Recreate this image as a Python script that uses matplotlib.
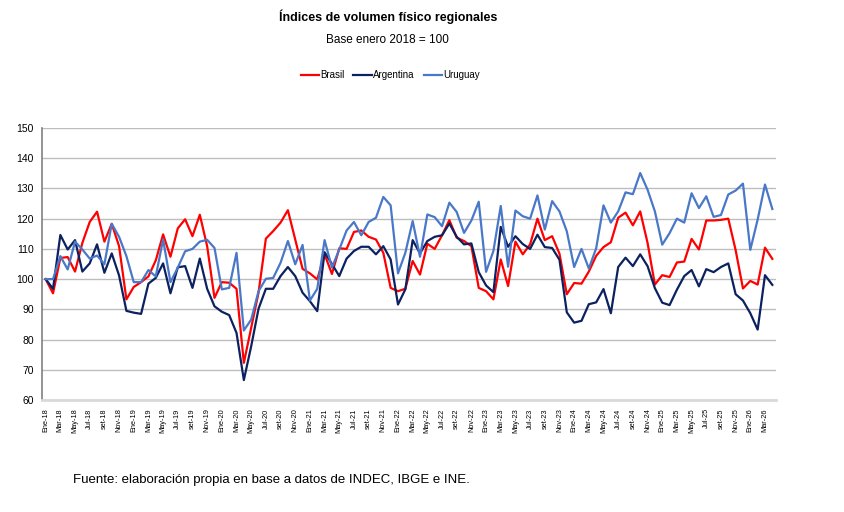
import numpy as np
import matplotlib
matplotlib.use("Agg")
from matplotlib import pyplot as plt

## Data ----------------------------------------------------------------------
# monthly index, Ene-18 .. Abr-26 (base enero 2018 = 100)
meses = ["Ene", "Feb", "Mar", "Abr", "May", "Jun", "Jul", "Ago", "set", "Oct", "Nov", "Dic"]
anios = ["18", "19", "20", "21", "22", "23", "24", "25", "26"]

brasil = [100, 95.3, 107, 107.3, 102.5, 112, 118.9, 122.3, 112.4, 118.3,
          110.9, 93.3, 97.4, 99, 100.9, 106.2, 114.8, 107.4, 116.8, 119.8,
          114.2, 121.3, 110.9, 93.8, 99, 98.8, 96.8, 72.3, 83.9, 95.5,
          113.4, 115.9, 118.7, 122.8, 113.1, 103.4, 101.9, 99.9, 108.2, 101.7,
          110.2, 110, 115.6, 116.1, 114, 113.1, 108.7, 97.1, 96, 96.8,
          106, 101.5, 111.7, 110, 114.5, 119.5, 113.7, 112.6, 110.9, 97.1,
          96, 93.3, 106.5, 97.7, 112.4, 108.2, 111.5, 120, 112.9, 114.2,
          108.4, 95, 98.7, 98.5, 102.5, 107.7, 110.6, 112.2, 120.3, 122,
          117.8, 122.4, 112, 98.2, 101.3, 100.7, 105.5, 105.8, 113.3, 109.8,
          119.4, 119.4, 119.6, 120, 109.6, 96.9, 99.4, 98.2, 110.4, 106.7]

argentina = [100, 96.8, 114.6, 109.8, 112.9, 102.5, 105.2, 111.5, 102.1, 108.5,
             101.2, 89.5, 88.9, 88.5, 98.5, 100.4, 105.2, 95.3, 103.9, 104.3,
             97.1, 106.8, 96.8, 91, 89.2, 88.1, 82.2, 66.6, 77.8, 90.2,
             96.8, 96.8, 101, 104, 101, 95.5, 92.7, 89.4, 108.9, 105,
             101, 106.8, 109.3, 110.7, 110.7, 108.2, 110.9, 106.5, 91.6, 96.6,
             112.9, 108.5, 112.6, 114, 114.5, 118.4, 114, 111.5, 111.8, 102.3,
             97.9, 95.7, 117.3, 110.7, 114.2, 111.6, 110, 114.7, 110.6, 110.3,
             106.4, 89, 85.6, 86.2, 91.7, 92.3, 96.7, 88.7, 104, 107.1,
             104.3, 108.2, 104.3, 97, 92.2, 91.4, 96.5, 101, 103, 97.6,
             103.3, 102.3, 104, 105.2, 95, 92.9, 88.7, 83.3, 101.3, 98.1]

uruguay = [100, 100, 107.6, 103.2, 112.4, 109.8, 106.8, 107.8, 104.9, 118.3,
           114, 107.6, 99, 99, 103, 100.9, 113.1, 99, 103.8, 109.2,
           110, 112.4, 113, 110.3, 96.6, 97.1, 108.7, 83, 86.6, 96,
           100.1, 100.4, 105.4, 112.6, 104.9, 111.3, 92.9, 96.8, 112.9, 103.8,
           109.8, 116.1, 118.9, 114.5, 118.9, 120.3, 127.2, 124.4, 101.9, 108.7,
           119.2, 107.4, 121.4, 120.5, 117.5, 125.3, 122.2, 115.3, 119.4, 125.6,
           102.4, 109.3, 124.2, 104.1, 122.7, 120.8, 120, 127.7, 116.4, 125.8,
           122.4, 115.8, 104, 110, 103.5, 110.2, 124.4, 118.7, 122.4, 128.7,
           128.1, 135.1, 129.6, 122.4, 111.4, 115.2, 120, 118.7, 128.4, 123.5,
           127.4, 120.6, 121.2, 128, 129.3, 131.6, 109.7, 119.7, 131.3, 123.2]

fechas = [f"{m}-{a}" for a in anios for m in meses][:len(brasil)]

## Plot ----------------------------------------------------------------------
plt.rcParams['font.family'] = ['Liberation Sans', 'DejaVu Sans']

fig = plt.figure(figsize=(8.45, 5.12), dpi=100)
ax = fig.add_axes([42/845, 112/512, 734/845, 272/512])

x = np.arange(len(brasil))
ax.plot(x, brasil, color='#FF0000', lw=1.6, label='Brasil')
ax.plot(x, argentina, color='#0B2160', lw=1.6, label='Argentina')
ax.plot(x, uruguay, color='#4A78C8', lw=1.6, label='Uruguay')

ax.set_xlim(-0.5, len(brasil) - 0.5)
ax.set_ylim(60, 150)
ax.set_yticks(range(60, 151, 10))
ax.tick_params(axis='y', length=0, labelsize=7.5, pad=6)
ax.grid(axis='y', color='#BDBDBD', lw=1)
ax.set_axisbelow(True)

ax.set_xticks(x[::2])
ax.set_xticklabels(fechas[::2], rotation=90, fontsize=5.3, va='top')
ax.tick_params(axis='x', length=0, pad=6)

for s in ['top', 'right']:
    ax.spines[s].set_visible(False)
ax.spines['left'].set_color('#808080')
ax.spines['left'].set_linewidth(1.2)
ax.spines['bottom'].set_color('#D9D9D9')
ax.spines['bottom'].set_linewidth(2)

fig.text(0.459, 0.968, 'Índices de volumen físico regionales', ha='center', va='center',
         fontsize=9, fontweight='bold')
fig.text(0.459, 0.922, 'Base enero 2018 = 100', ha='center', va='center',
         fontsize=8.5)
fig.legend(loc='center', bbox_to_anchor=(0.462, 0.853), ncol=3, frameon=False,
           fontsize=7, handlelength=1.9, columnspacing=0.9, handletextpad=0.15)

fig.text(73/845, 1 - 480/512, 'Fuente: elaboración propia en base a datos de INDEC, IBGE e INE.',
         ha='left', va='center', fontsize=9.5)

fig.savefig('out.png', dpi=100)
